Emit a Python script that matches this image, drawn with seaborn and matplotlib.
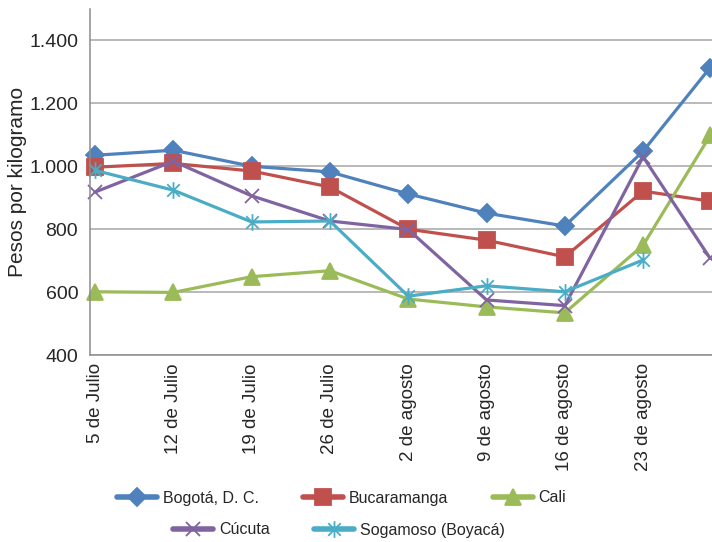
import numpy as np
import pandas as pd
import seaborn as sns
import matplotlib.pyplot as plt
from matplotlib.path import Path
from matplotlib.ticker import FuncFormatter

# DATA
fechas = ["5 de Julio", "12 de Julio", "19 de Julio", "26 de Julio",
          "2 de agosto", "9 de agosto", "16 de agosto", "23 de agosto"]
dias_fechas = [0, 7, 14, 21, 28, 35, 42, 49]   # days since 5 Jul
dias_obs = [0, 7, 14, 21, 28, 35, 42, 49, 55]

bogota = [1035, 1051, 1000, 982, 912, 851, 810, 1048, 1314]
bucaramanga = [997, 1009, 985, 934, 800, 765, 712, 921, 889]
cali = [601, 599, 649, 668, 578, 553, 534, 749, 1098]
cucuta = [918, 1016, 906, 826, 799, 575, 557, 1030, 707]
sogamoso = [987, 924, 823, 826, 587, 620, 601, 702, np.nan]

ciudades = ["Bogotá, D. C.", "Bucaramanga", "Cali", "Cúcuta", "Sogamoso (Boyacá)"]
valores = [bogota, bucaramanga, cali, cucuta, sogamoso]

# STYLE
sns.set_style("white")
plt.rcParams["font.family"] = ["Liberation Sans", "DejaVu Sans"]

# excel-like asterisk: vertical bar + x
asterisco = Path([(0, -1), (0, 1), (-0.75, -0.75), (0.75, 0.75), (-0.75, 0.75), (0.75, -0.75)],
                 [Path.MOVETO, Path.LINETO, Path.MOVETO, Path.LINETO, Path.MOVETO, Path.LINETO])

colores = ["#4F81BD", "#C0504D", "#9BBB59", "#8064A2", "#4BACC6"]
marcadores = ["D", "s", "^", "x", asterisco]
tamanos = [9, 11, 11, 10, 12]

fig = plt.figure(figsize=(7.12, 5.42), dpi=100)
ax = fig.add_axes([0.1264, 0.345, 0.8736, 0.6384])

for nombre, vals, c, m, ms in zip(ciudades, valores, colores, marcadores, tamanos):
    df = pd.DataFrame({"dia": dias_obs, "precio": vals}).dropna()
    sns.lineplot(data=df, x="dia", y="precio", ax=ax, color=c, marker=m,
                 markersize=ms, markeredgecolor=c, markeredgewidth=1.3,
                 linewidth=2.3, label=nombre, legend=False, clip_on=False)

ax.set_xlim(-0.45, 55.16)
ax.set_ylim(400, 1500)
ax.set_yticks(np.arange(400, 1401, 200))
ax.yaxis.set_major_formatter(FuncFormatter(lambda v, p: f"{int(v):,}".replace(",", ".")))
ax.set_xticks(dias_fechas)
ax.set_xticklabels(fechas, rotation=90, va="top", ha="center", fontsize=13.5)

ax.yaxis.grid(True, color="#a6a6a6", linewidth=1.1)
ax.xaxis.grid(False)
ax.set_axisbelow(True)
for s in ["top", "right"]:
    ax.spines[s].set_visible(False)
for s in ["left", "bottom"]:
    ax.spines[s].set_color("#8c8c8c")
    ax.spines[s].set_linewidth(1.1)

ax.tick_params(axis="y", length=3.5, color="#8c8c8c", pad=5, labelsize=14)
ax.tick_params(axis="x", length=0, pad=6)
ax.set_xlabel("")
ax.set_ylabel("Pesos por kilogramo", fontsize=15)
ax.yaxis.set_label_coords(-0.101, 0.5)

lineas = ax.get_lines()
leg_kw = dict(loc="center", frameon=False, handlelength=2.5, handletextpad=0.35,
              columnspacing=2.8, fontsize=11.5)
leg1 = fig.legend(lineas[:3], ciudades[:3], ncol=3,
                  bbox_to_anchor=(341.5 / 712, 1 - 498 / 542), **leg_kw)
leg2 = fig.legend(lineas[3:], ciudades[3:], ncol=2,
                  bbox_to_anchor=(339 / 712, 1 - 530 / 542), **leg_kw)
for leg in (leg1, leg2):
    for l in leg.get_lines():
        l.set_linewidth(4)

fig.savefig("out.png", dpi=100)
